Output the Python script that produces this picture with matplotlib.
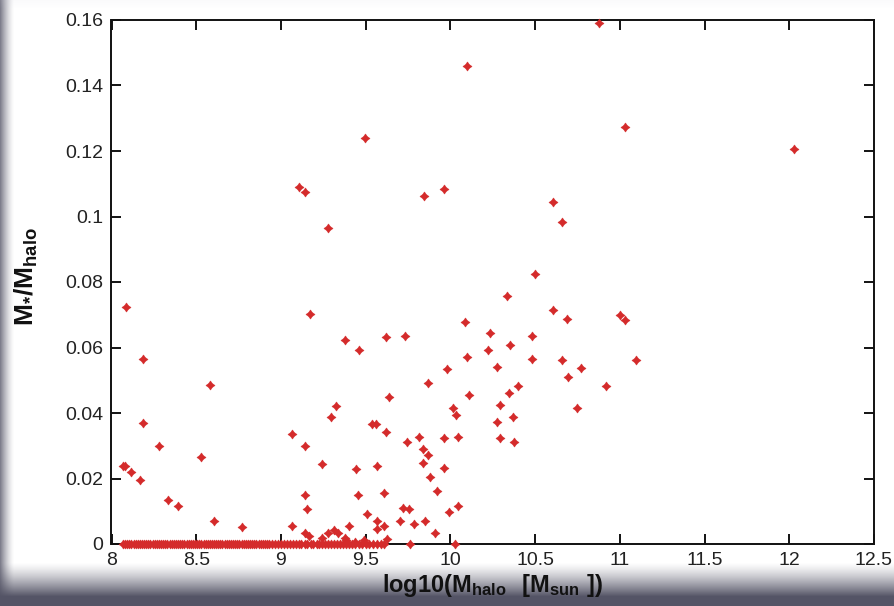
import numpy as np
import matplotlib
matplotlib.use("Agg")
import matplotlib.pyplot as plt
from matplotlib.path import Path

plt.rcParams["font.family"] = ["Liberation Sans", "DejaVu Sans"]
plt.rcParams["mathtext.fontset"] = "custom"
plt.rcParams["mathtext.rm"] = "Liberation Sans"
plt.rcParams["mathtext.bf"] = "Liberation Sans:bold"

# log10 halo mass and stellar-to-halo mass ratio for galaxies with stars
log_mhalo = [
    8.084, 8.186, 8.58, 8.186, 8.28, 8.07, 8.08, 8.115, 8.166, 8.528,
    8.333, 8.395, 8.603, 8.77, 9.067, 9.067,
    9.174, 9.380, 9.461, 9.619, 9.733, 10.087, 10.10, 9.982, 9.868, 9.640,
    10.109, 9.327, 9.294, 10.014, 10.034, 9.144, 9.540, 9.561, 9.620, 9.742,
    9.815, 9.837, 9.870, 9.838, 9.963, 10.047, 9.961, 9.243, 9.445, 9.569,
    9.88, 9.920, 9.144, 9.453, 9.609, 9.152, 9.507, 9.719, 9.754, 10.047,
    9.994, 9.402, 9.567, 9.565, 9.610, 9.703, 9.786, 9.849, 9.908, 9.140,
    9.168, 9.245, 9.278, 9.313, 9.338, 9.380, 9.437, 9.492, 9.624, 9.384,
    10.337, 10.606, 10.687, 11.002, 11.033, 10.232, 10.482, 10.354, 10.222,
    10.482, 10.659, 11.094, 10.276, 10.773, 10.697, 10.400, 10.347, 10.917,
    10.295, 10.749, 10.368, 10.274, 10.295, 10.378,
    10.878, 11.031, 10.097, 9.846, 9.961, 10.606, 10.659, 10.50, 9.494,
    9.109, 9.142, 9.276, 12.03,
]
mstar_ratio = [
    0.0725, 0.0565, 0.0486, 0.0369, 0.0299, 0.0239, 0.0237, 0.0219, 0.0195, 0.0266,
    0.0135, 0.0116, 0.0070, 0.0051, 0.0336, 0.0055,
    0.0701, 0.0622, 0.0593, 0.0631, 0.0636, 0.0678, 0.0570, 0.0533, 0.0491, 0.0450,
    0.0454, 0.0421, 0.0389, 0.0416, 0.0393, 0.0299, 0.0365, 0.0365, 0.0341, 0.0312,
    0.0328, 0.0290, 0.0272, 0.0247, 0.0323, 0.0327, 0.0233, 0.0243, 0.0228, 0.0239,
    0.0206, 0.0163, 0.0150, 0.0150, 0.0155, 0.0107, 0.0093, 0.0111, 0.0108, 0.0116,
    0.0098, 0.0055, 0.0071, 0.0047, 0.0055, 0.0070, 0.0060, 0.0070, 0.0033, 0.0033,
    0.0025, 0.0017, 0.0033, 0.0043, 0.0033, 0.0017, 0.0005, 0.0012, 0.0014, 0.0012,
    0.0758, 0.0715, 0.0687, 0.0698, 0.0683, 0.0645, 0.0636, 0.0608, 0.0593,
    0.0566, 0.0561, 0.0561, 0.0541, 0.0537, 0.0509, 0.0481, 0.0462, 0.0481,
    0.0425, 0.0416, 0.0388, 0.0374, 0.0323, 0.0312,
    0.1592, 0.1272, 0.1460, 0.1063, 0.1085, 0.1043, 0.0982, 0.0823, 0.1240,
    0.1091, 0.1075, 0.0964, 0.1206,
]

# halos with no stellar mass (ratio exactly zero)
log_mhalo_dark = [
    8.070, 8.080, 8.092, 8.105, 8.118, 8.130, 8.143, 8.155, 8.168, 8.180,
    8.193, 8.205, 8.218, 8.230, 8.243, 8.255, 8.268, 8.280, 8.293, 8.305,
    8.318, 8.330, 8.343, 8.355, 8.368, 8.380, 8.393, 8.405, 8.418, 8.430,
    8.443, 8.455, 8.468, 8.480, 8.493, 8.505, 8.518, 8.530, 8.543, 8.555,
    8.568, 8.580, 8.593, 8.605, 8.618, 8.630, 8.643, 8.655, 8.668, 8.680,
    8.693, 8.705, 8.718, 8.730, 8.743, 8.755, 8.768, 8.780, 8.793, 8.805,
    8.818, 8.830, 8.843, 8.855, 8.868, 8.880, 8.893, 8.905, 8.918, 8.930,
    8.945, 8.965, 8.985, 9.000, 9.020, 9.035, 9.055, 9.070, 9.090, 9.105,
    9.120, 9.140, 9.155, 9.175, 9.190, 9.210, 9.225, 9.245, 9.260, 9.280,
    9.295, 9.315, 9.330, 9.350, 9.365, 9.385, 9.400, 9.420, 9.440, 9.460,
    9.480, 9.500, 9.520, 9.545, 9.565, 9.590, 9.610, 9.760, 10.030,
]
mstar_ratio_dark = [0.0] * len(log_mhalo_dark)

x_ticks = [8, 8.5, 9, 9.5, 10, 10.5, 11, 11.5, 12, 12.5]
x_tick_labels = ["8", "8.5", "9", "9.5", "10", "10.5", "11", "11.5", "12", "12.5"]
y_ticks = [0, 0.02, 0.04, 0.06, 0.08, 0.1, 0.12, 0.14, 0.16]
y_tick_labels = ["0", "0.02", "0.04", "0.06", "0.08", "0.1", "0.12", "0.14", "0.16"]

W, H = 895, 606
fig = plt.figure(figsize=(W / 100, H / 100), dpi=100)
fig.patch.set_facecolor("white")

# slide-style shaded frame behind the plot
bg = fig.add_axes([0, 0, 1, 1], zorder=-10)
bg.set_axis_off()
rows = np.arange(H)[:, None, None]
cols = np.arange(W)[None, :, None]
img = np.ones((H, W, 3))
dark = np.array([0.33, 0.33, 0.40])[None, None, :]
bottom = np.clip((rows - 562) / 34.0, 0, 1) ** 1.3
img = img * (1 - bottom) + dark * bottom
left = 0.75 * np.clip((14 - cols) / 14.0, 0, 1) ** 1.5
img = img * (1 - left) + dark * left
top = 0.08 * np.clip((8 - rows) / 8.0, 0, 1)
img = img * (1 - top) + np.array([0.8, 0.8, 0.85])[None, None, :] * top
bg.imshow(img, aspect="auto", extent=[0, 1, 0, 1], origin="upper")

ax = fig.add_axes([111.5 / W, 1 - 544 / H, (874 - 111.5) / W, (544 - 20) / H])
ax.set_facecolor("white")

# four-pointed marker with a nearly full diamond body
r = 0.42
star = Path([(0, 1), (r, r), (1, 0), (r, -r), (0, -1), (-r, -r), (-1, 0), (-r, r), (0, 1)],
            [Path.MOVETO] + [Path.LINETO] * 7 + [Path.CLOSEPOLY])
red = "#d42b2b"
ax.scatter(log_mhalo_dark, mstar_ratio_dark, marker=star, s=42, color=red,
           linewidths=0.4, edgecolors=red, clip_on=False, zorder=3)
ax.scatter(log_mhalo, mstar_ratio, marker=star, s=42, color=red,
           linewidths=0.4, edgecolors=red, clip_on=False, zorder=3)

ax.set_xlim(8, 12.5)
ax.set_ylim(0, 0.16)
ax.set_xticks(x_ticks)
ax.set_xticklabels(x_tick_labels)
ax.set_yticks(y_ticks)
ax.set_yticklabels(y_tick_labels)
ax.tick_params(direction="in", length=7, width=1.3, top=True, right=True,
               labelsize=14, labelcolor="#222222", pad=6)
for sp in ax.spines.values():
    sp.set_linewidth(1.4)
    sp.set_color("#111111")

ax.set_xlabel(r"$\mathbf{log10(M_{halo}\ \ [M_{sun}\ ])}$", fontsize=17, labelpad=2,
              color="#111111")
ax.set_ylabel(r"$\mathbf{M_{*}/M_{halo}}$", fontsize=19, color="#111111")
ax.yaxis.set_label_coords(-0.094, 0.51)

fig.savefig("out.png", dpi=100, facecolor=fig.get_facecolor())
